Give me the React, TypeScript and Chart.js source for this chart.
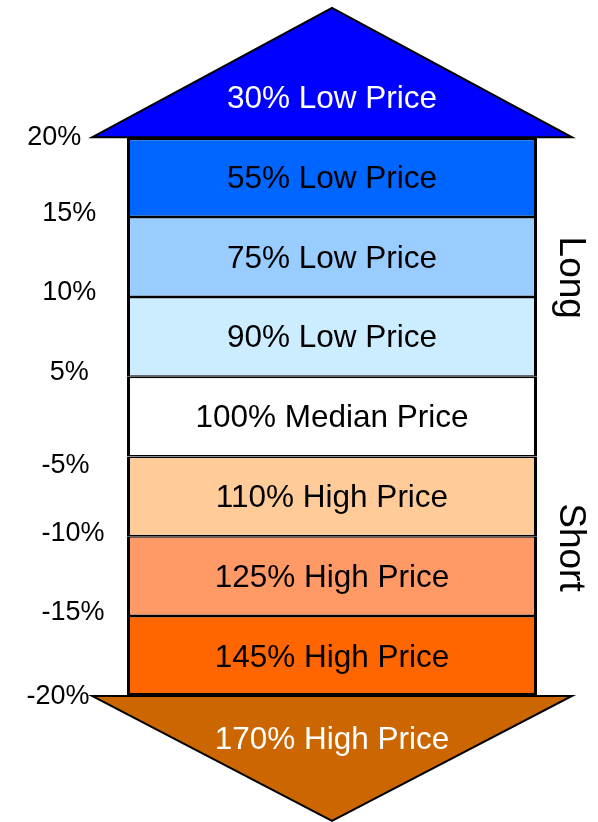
import React, { useEffect, useRef } from "react";
import { Chart, registerables } from "chart.js";

Chart.register(...registerables);

// ---- data ----
const bandLabels = [
  "55% Low Price",
  "75% Low Price",
  "90% Low Price",
  "100% Median Price",
  "110% High Price",
  "125% High Price",
  "145% High Price",
];
const bandLow = [6, 5, 4, 3, 2, 1, 0];
const bandHigh = [7, 6, 5, 4, 3, 2, 1];

const arrowLabels = ["30% Low Price", "170% High Price"];
const arrowBase = [7, 0];
const arrowTip = [8.62, -1.565];

const tickLabels = ["20%", "15%", "10%", "5%", "-5%", "-10%", "-15%", "-20%"];
const tickValues = [7, 6.05, 5.05, 4.05, 2.89, 2.04, 1.05, -0.01];

const sideLabels = ["Long", "Short"];
const sideValues = [5.24, 1.86];

// ---- styles ----
const bandColors = ["#0066FF", "#99CCFF", "#CCECFF", "#FFFFFF", "#FFCC99", "#FF9966", "#FF6600"];
const arrowColors = ["#0000FF", "#CC6600"];
const FONT = '"Liberation Sans", Arial, Helvetica, sans-serif';
const ARROW_SPREAD = 240 / 205; // arrow half-width relative to box half-width
// horizontal nudges of tick labels (number of spaces before / after)
const tickLead = [0, 0, 0, 0, 0, 1, 1, 0];
const tickTrail = [4, 0, 0, 0, 1, 0, 0, 3];

const arrowPlugin = {
  id: "arrows",
  beforeDatasetsDraw(chart: any) {
    const { ctx } = chart;
    const ys = chart.scales.y;
    const el = chart.getDatasetMeta(0).data[0];
    const cx = el.x;
    const half = (el.width / 2) * ARROW_SPREAD;
    ctx.save();
    arrowLabels.forEach((_, i) => {
      const by = ys.getPixelForValue(arrowBase[i]);
      const ty = ys.getPixelForValue(arrowTip[i]);
      ctx.beginPath();
      ctx.moveTo(cx - half, by);
      ctx.lineTo(cx, ty);
      ctx.lineTo(cx + half, by);
      ctx.closePath();
      ctx.fillStyle = arrowColors[i];
      ctx.fill();
      ctx.lineWidth = 2;
      ctx.lineJoin = "miter";
      ctx.strokeStyle = "#000";
      ctx.stroke();
    });
    ctx.restore();
  },
  afterDatasetsDraw(chart: any) {
    const { ctx } = chart;
    const ys = chart.scales.y;
    const el0 = chart.getDatasetMeta(0).data[0];
    const cx = el0.x;
    const right = el0.x + el0.width / 2;
    ctx.save();
    ctx.textAlign = "center";
    ctx.textBaseline = "middle";
    ctx.font = `31.5px ${FONT}`;
    // arrow labels
    arrowLabels.forEach((lab, i) => {
      const by = ys.getPixelForValue(arrowBase[i]);
      const ty = ys.getPixelForValue(arrowTip[i]);
      ctx.fillStyle = "#FFFFFF";
      ctx.fillText(lab, cx, by + (ty - by) / 3 + (i === 0 ? 5 : 3));
    });
    // band labels
    bandLabels.forEach((lab, i) => {
      const el = chart.getDatasetMeta(i).data[0];
      ctx.fillStyle = "#000";
      ctx.fillText(lab, el.x, (el.y + el.base) / 2 + 2);
    });
    // side labels
    ctx.textBaseline = "alphabetic";
    sideLabels.forEach((lab, i) => {
      const y = ys.getPixelForValue(sideValues[i]);
      ctx.save();
      ctx.translate(right + 23, y);
      ctx.rotate(Math.PI / 2);
      ctx.font = `37px ${FONT}`;
      ctx.fillStyle = "#000";
      ctx.fillText(lab, 0, 0);
      ctx.restore();
    });
    ctx.restore();
  },
};

export default function App() {
  const ref = useRef<HTMLCanvasElement | null>(null);
  useEffect(() => {
    if (!ref.current) return;
    const n = bandLabels.length;
    const chart = new Chart(ref.current, {
      type: "bar",
      data: {
        labels: [""],
        datasets: bandLabels.map((lab, i) => ({
          label: lab,
          data: [[bandLow[i], bandHigh[i]]] as any,
          backgroundColor: bandColors[i],
          borderColor: "#000",
          borderWidth: {
            top: i === 0 ? 3 : 1.5,
            bottom: i === n - 1 ? 3 : 1.5,
            left: 3,
            right: 3,
          },
          borderSkipped: false,
          grouped: false,
          barPercentage: 410 / 444,
          categoryPercentage: 1,
        })),
      },
      options: {
        animation: false,
        responsive: true,
        maintainAspectRatio: false,
        layout: { padding: { left: 0, right: 44, top: 0, bottom: 0 } },
        plugins: {
          legend: { display: false },
          tooltip: { enabled: false },
          title: { display: false },
        },
        scales: {
          x: { display: false, stacked: true },
          y: {
            min: -1.58,
            max: 8.72,
            grid: { display: false, drawTicks: false },
            border: { display: false },
            ticks: {
              color: "#000",
              font: { family: FONT, size: 27 },
              crossAlign: "center",
              padding: -2,
              callback: (_v: any, idx: number) =>
                " ".repeat(tickLead[idx]) + tickLabels[idx] + " ".repeat(tickTrail[idx]),
            },
            afterBuildTicks: (s: any) => {
              s.ticks = tickValues.map((v) => ({ value: v }));
            },
            afterFit: (s: any) => {
              s.width = 110;
              s.paddingTop = 0;
              s.paddingBottom = 0;
            },
          } as any,
        },
      },
      plugins: [arrowPlugin],
    });
    return () => chart.destroy();
  }, []);
  return (
    <div style={{ position: "absolute", left: 0, top: 0, width: 598, height: 822, background: "#fff" }}>
      <canvas ref={ref} />
    </div>
  );
}
